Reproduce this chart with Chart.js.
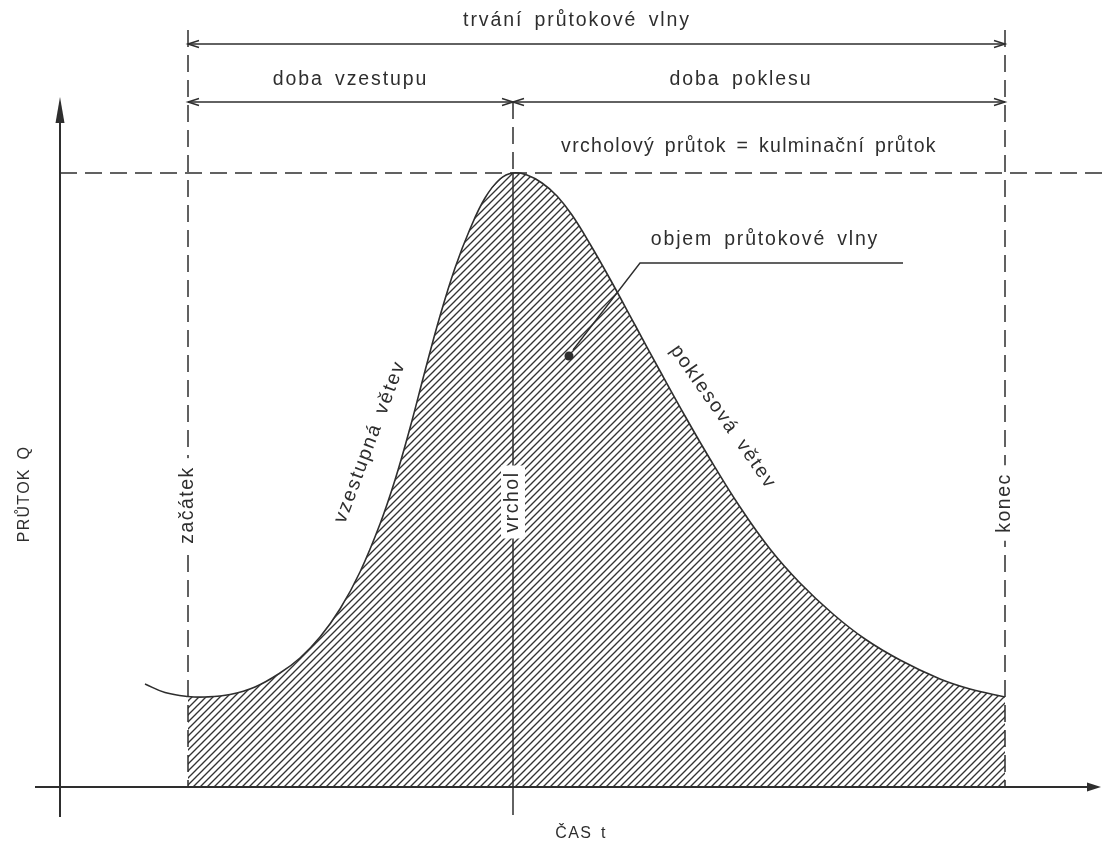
<!DOCTYPE html>
<html><head><meta charset="utf-8">
<script src="https://cdn.jsdelivr.net/npm/chart.js@4.4.1/dist/chart.umd.min.js"></script>
<style>html,body{margin:0;padding:0;background:#fff;}canvas{display:block;}</style>
</head><body>
<canvas id="c" width="1102" height="841"></canvas>
<script>
// ---- data (time t, flow Q in arbitrary units) ----
const timeT = [8.5, 10.5, 12.8, 14.5, 17.0, 19.5, 22.0, 24.0, 26.0, 28.0, 30.0, 32.0, 33.5, 35.0, 36.5, 38.0, 39.5, 41.0, 42.5, 44.0, 45.3, 46.7, 48.2, 49.7, 51.2, 53.0, 55.0, 57.5, 60.0, 62.5, 65.0, 68.0, 71.0, 74.0, 77.3, 80.5, 84.0, 88.0, 91.0, 94.5];
const flowQ = [10.3, 9.45, 9.05, 9.0, 9.25, 10.0, 11.4, 12.9, 15.0, 17.8, 21.5, 26.3, 30.7, 35.9, 41.6, 47.1, 51.9, 55.8, 58.9, 60.8, 61.4, 61.2, 60.4, 59.1, 57.2, 54.3, 50.8, 46.2, 41.6, 37.1, 32.8, 28.0, 23.8, 20.4, 17.3, 14.8, 12.7, 10.8, 9.8, 9.0];
const eventNames = ['začátek', 'vrchol', 'konec'];
const eventT = [12.8, 45.3, 94.5];
const spanLabels = ['trvání průtokové vlny', 'doba vzestupu', 'doba poklesu'];
const peakLabel = 'vrcholový průtok = kulminační průtok';
const branchLabels = ['vzestupná větev', 'poklesová větev'];
const volumeLabel = 'objem průtokové vlny';
const axisTitles = ['ČAS t', 'PRŮTOK Q'];

const curvePts = timeT.map((t, i) => ({x: t, y: flowQ[i]}));
const wavePts = curvePts.filter(p => p.x >= eventT[0] && p.x <= eventT[2]);
const peakQ = Math.max(...flowQ);

const INK = '#2e2e2e';
const FONT = '"Liberation Sans", Arial, sans-serif';

function hatchPattern() {
  const s = 7, c = document.createElement('canvas');
  c.width = s; c.height = s;
  const g = c.getContext('2d');
  g.strokeStyle = '#333'; g.lineWidth = 1.35;
  g.beginPath();
  g.moveTo(-1, s + 1); g.lineTo(s + 1, -1);
  g.moveTo(-1, 1); g.lineTo(1, -1);
  g.moveTo(s - 1, s + 1); g.lineTo(s + 1, s - 1);
  g.stroke();
  return g.createPattern(c, 'repeat');
}

function setFont(ctx, size, ls, ws) {
  ctx.font = size + 'px ' + FONT;
  ctx.letterSpacing = (ls || 0) + 'px';
  ctx.wordSpacing = (ws || 0) + 'px';
}
function rotText(ctx, text, x, y, ang, box) {
  ctx.save();
  ctx.translate(x, y); ctx.rotate(ang);
  ctx.textAlign = 'center'; ctx.textBaseline = 'middle';
  if (box) {
    const w = ctx.measureText(text).width;
    ctx.fillStyle = '#fff';
    ctx.fillRect(-w / 2 - box, -12, w + 2 * box, 24);
    ctx.fillStyle = INK;
  }
  ctx.fillText(text, 0, 0);
  ctx.restore();
}
function openArrow(ctx, x, y, dir) {
  ctx.beginPath();
  ctx.moveTo(x - dir * 11, y - 3.5); ctx.lineTo(x, y); ctx.lineTo(x - dir * 11, y + 3.5);
  ctx.stroke();
}
function line(ctx, x1, y1, x2, y2, dash) {
  ctx.setLineDash(dash || []);
  ctx.beginPath(); ctx.moveTo(x1, y1); ctx.lineTo(x2, y2); ctx.stroke();
  ctx.setLineDash([]);
}

const diagram = {
  id: 'diagram',
  afterDatasetsDraw(chart) {
    const ctx = chart.ctx, xs = chart.scales.x, ys = chart.scales.y;
    const X = v => xs.getPixelForValue(v), Y = v => ys.getPixelForValue(v);
    const x0 = X(0), y0 = Y(0);
    const xa = X(eventT[0]), xp = X(eventT[1]), xe = X(eventT[2]);
    const yPeak = Y(peakQ);
    ctx.save();
    ctx.strokeStyle = INK; ctx.fillStyle = INK;

    // dashed guide lines
    ctx.lineWidth = 1.5;
    const dash = [17, 8];
    line(ctx, x0, yPeak, chart.width, yPeak, dash);
    line(ctx, xa, 30, xa, y0, dash);
    line(ctx, xe, 30, xe, y0, dash);
    line(ctx, xp, 102, xp, yPeak, dash);
    line(ctx, xp, yPeak, xp, y0 + 28);

    // axes
    ctx.lineWidth = 2;
    line(ctx, X(-2.5), y0, 1092, y0);
    ctx.beginPath(); ctx.moveTo(1101, y0); ctx.lineTo(1087, y0 - 4.5); ctx.lineTo(1087, y0 + 4.5); ctx.closePath(); ctx.fill();
    line(ctx, x0, Y(-3), x0, 115);
    ctx.beginPath(); ctx.moveTo(x0, 97); ctx.lineTo(x0 - 4.5, 123); ctx.lineTo(x0 + 4.5, 123); ctx.closePath(); ctx.fill();

    // dimension lines
    ctx.lineWidth = 1.5;
    line(ctx, xa, 44, xe, 44);
    openArrow(ctx, xa, 44, -1); openArrow(ctx, xe, 44, 1);
    line(ctx, xa, 102, xe, 102);
    openArrow(ctx, xa, 102, -1); openArrow(ctx, xp, 102, 1);
    openArrow(ctx, xp, 102, -1); openArrow(ctx, xe, 102, 1);

    // top texts
    ctx.textBaseline = 'alphabetic'; ctx.textAlign = 'center';
    setFont(ctx, 19.5, 1.9, 4);
    ctx.fillText(spanLabels[0], 577, 26);
    ctx.fillText(spanLabels[1], (xa + xp) / 2, 85);
    ctx.fillText(spanLabels[2], 741, 85);
    setFont(ctx, 19.5, 1.3, 3);
    ctx.fillText(peakLabel, 749, 152);

    // event labels (vertical)
    setFont(ctx, 19.5, 1.5, 3);
    rotText(ctx, eventNames[0], xa, 505, -Math.PI / 2, 8);
    rotText(ctx, eventNames[1], xp, 502, -Math.PI / 2, 6);
    rotText(ctx, eventNames[2], xe, 503, -Math.PI / 2, 8);

    // branch labels
    setFont(ctx, 19.5, 1.8, 4);
    rotText(ctx, branchLabels[0], 370, 442, Math.atan2(-160, 60));
    rotText(ctx, branchLabels[1], 723, 417, Math.atan2(139, 97));

    // volume label with leader
    setFont(ctx, 19.5, 1.8, 4);
    ctx.textAlign = 'center'; ctx.textBaseline = 'alphabetic';
    ctx.fillText(volumeLabel, 765, 245);
    ctx.lineWidth = 1.4;
    ctx.beginPath(); ctx.moveTo(903, 263); ctx.lineTo(640, 263); ctx.lineTo(573, 350); ctx.stroke();
    ctx.beginPath(); ctx.arc(569, 356, 4.5, 0, Math.PI * 2); ctx.fill();

    // axis titles
    setFont(ctx, 16, 1.3, 3);
    ctx.textAlign = 'center'; ctx.textBaseline = 'alphabetic';
    ctx.fillText(axisTitles[0], 581, 838);
    ctx.save(); ctx.translate(29, 494); ctx.rotate(-Math.PI / 2);
    ctx.fillText(axisTitles[1], 0, 0); ctx.restore();

    ctx.restore();
  }
};

new Chart(document.getElementById('c'), {
  type: 'scatter',
  data: {
    datasets: [
      { label: 'objem', data: wavePts, showLine: true, borderWidth: 0, borderColor: 'rgba(0,0,0,0)',
        pointRadius: 0, fill: 'origin', backgroundColor: hatchPattern(), tension: 0.4 },
      { label: 'průtok', data: curvePts, showLine: true, borderWidth: 1.6, borderColor: INK,
        pointRadius: 0, fill: false, tension: 0.4 }
    ]
  },
  options: {
    responsive: false, animation: false,
    layout: { padding: { left: 35, right: 2, top: 100, bottom: 24 } },
    plugins: { legend: { display: false }, tooltip: { enabled: false } },
    scales: {
      x: { type: 'linear', min: -2.5, max: 104, display: false },
      y: { type: 'linear', min: -3, max: 68.7, display: false }
    }
  },
  plugins: [diagram]
});
</script>
</body></html>
